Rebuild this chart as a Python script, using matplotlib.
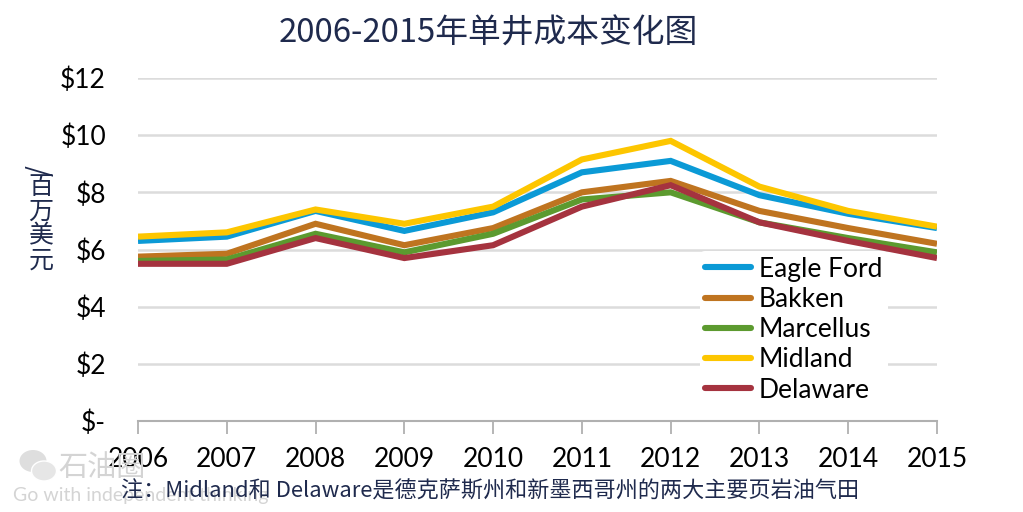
import matplotlib
matplotlib.use("Agg")
import matplotlib.pyplot as plt
from matplotlib.patches import Ellipse

plt.rcParams['font.family'] = ['Noto Sans CJK SC', 'DejaVu Sans']

years = [2006, 2007, 2008, 2009, 2010, 2011, 2012, 2013, 2014, 2015]
eagle_ford = [6.3, 6.45, 7.35, 6.65, 7.3, 8.7, 9.1, 7.9, 7.25, 6.75]
bakken = [5.75, 5.85, 6.9, 6.15, 6.75, 8.0, 8.4, 7.35, 6.75, 6.2]
marcellus = [5.6, 5.65, 6.55, 5.9, 6.55, 7.75, 8.0, 6.95, 6.4, 5.9]
midland = [6.45, 6.6, 7.4, 6.9, 7.5, 9.15, 9.8, 8.2, 7.35, 6.8]
delaware = [5.5, 5.5, 6.4, 5.7, 6.15, 7.5, 8.25, 6.95, 6.3, 5.7]
y_ticks = [0, 2, 4, 6, 8, 10, 12]
y_labels = ['$-', '$2', '$4', '$6', '$8', '$10', '$12']

navy = '#1f2a4d'

fig = plt.figure(figsize=(10.23, 5.12), dpi=100)
ax = fig.add_axes([138 / 1023, 1 - 421 / 512, (937 - 138) / 1023, (421 - 78) / 512])

ax.plot(years, eagle_ford, color='#0b9ad6', lw=4.4, label='Eagle Ford', solid_joinstyle='miter', solid_capstyle='butt')
ax.plot(years, bakken, color='#bf7420', lw=4.4, label='Bakken', solid_joinstyle='miter', solid_capstyle='butt')
ax.plot(years, marcellus, color='#5c9a2f', lw=4.4, label='Marcellus', solid_joinstyle='miter', solid_capstyle='butt')
ax.plot(years, midland, color='#fdc600', lw=4.4, label='Midland', solid_joinstyle='miter', solid_capstyle='butt')
ax.plot(years, delaware, color='#a5333f', lw=4.4, label='Delaware', solid_joinstyle='miter', solid_capstyle='butt')

ax.set_xlim(2006, 2015)
ax.set_ylim(0, 12)
ax.set_yticks(y_ticks)
ax.set_yticklabels(y_labels, fontsize=19, family='Lato', color='black')
ax.set_xticks(years)
ax.set_xticklabels(years, fontsize=19, family='Lato', color='black')
ax.grid(axis='y', color='#dcdcdc', lw=1.8)
ax.set_axisbelow(True)
ax.tick_params(axis='y', length=0, pad=23)
ax.tick_params(axis='x', length=9, width=1.3, color='#b0b0b0', direction='out', pad=10)
for s in ['top', 'right', 'left']:
    ax.spines[s].set_visible(False)
ax.spines['bottom'].set_color('#b0b0b0')
ax.spines['bottom'].set_linewidth(1.5)

leg = ax.legend(loc='lower left', bbox_to_anchor=(0.703, 0.038), frameon=True, framealpha=1,
                edgecolor='none', facecolor='white', labelspacing=0.2,
                handlelength=1.75, handletextpad=0.3, borderpad=0.2, borderaxespad=0,
                prop={'family': 'Lato', 'size': 19})
for line in leg.get_lines():
    line.set_solid_capstyle('round')

fig.text(488 / 1023, 1 - 34 / 512, '2006-2015年单井成本变化图', fontsize=23.6, color=navy,
         ha='center', va='center')

# y label: slash turned, characters stacked upright
fig.text(41 / 1023, 1 - 171 / 512, '/', fontsize=20, color=navy, rotation=90,
         ha='center', va='center')
fig.text(41 / 1023, 1 - 224 / 512, '百\n万\n美\n元', fontsize=18, color=navy,
         ha='center', va='center', linespacing=0.92)

# watermark
wm = '#d4d4d4'
icon_a = Ellipse((33 / 1023, 1 - 461 / 512), 27 / 1023, 22 / 512, transform=fig.transFigure,
                 facecolor='#dedede', edgecolor='none', zorder=5)
icon_b = Ellipse((44 / 1023, 1 - 471 / 512), 25 / 1023, 20 / 512, transform=fig.transFigure,
                 facecolor='#e6e6e6', edgecolor='white', lw=1, zorder=5)
fig.add_artist(icon_a)
fig.add_artist(icon_b)
fig.text(58 / 1023, 1 - 468 / 512, '石油圈', fontsize=21, color=wm, ha='left', va='center', zorder=5)
fig.text(13 / 1023, 1 - 495 / 512, 'Go with independent thinking', fontsize=14, color=wm,
         family='Lato', ha='left', va='center', zorder=5)

fig.text(121 / 1023, 1 - 492 / 512, '注：Midland和 Delaware是德克萨斯州和新墨西哥州的两大主要页岩油气田',
         fontsize=15.9, color=navy, ha='left', va='center', zorder=6)

fig.savefig('out.png', dpi=100)
